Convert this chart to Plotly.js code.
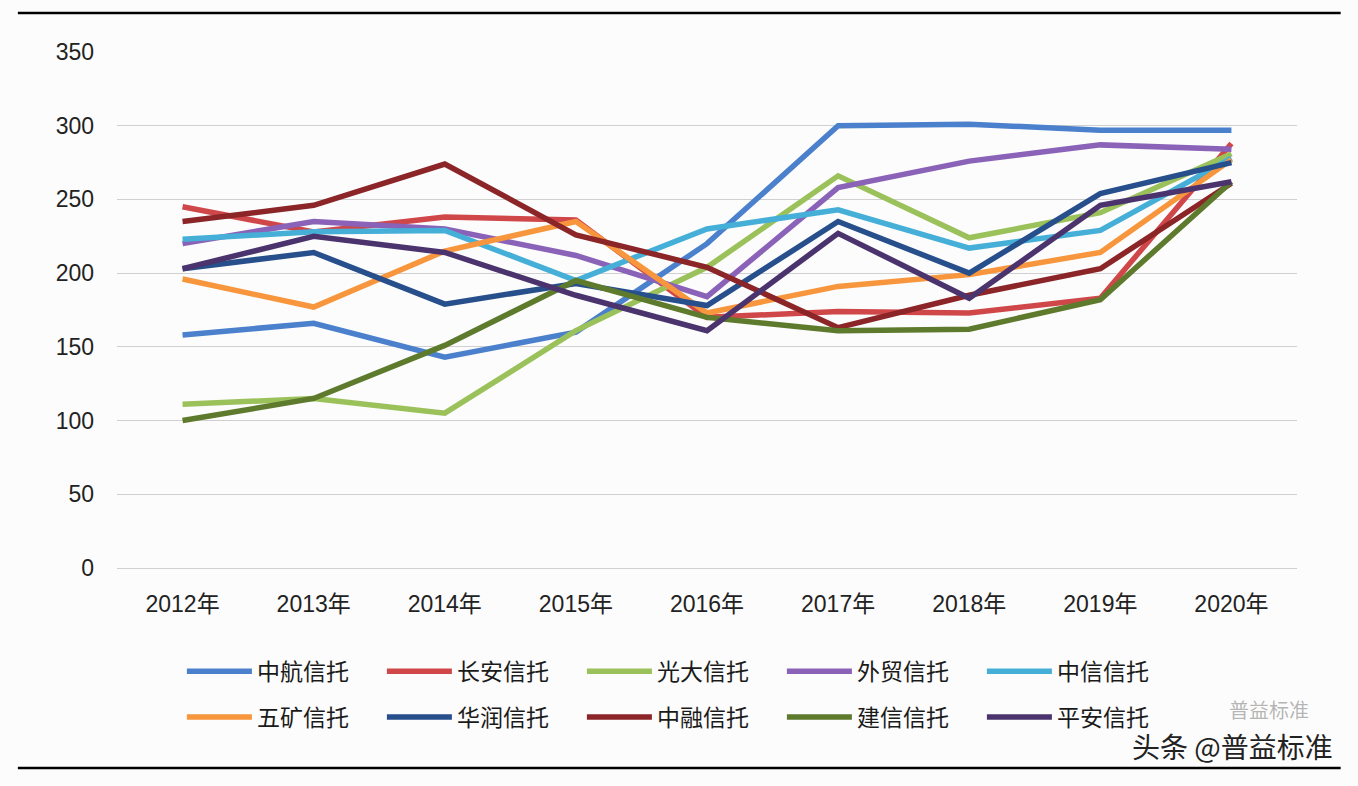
<!DOCTYPE html>
<html>
<head>
<meta charset="utf-8">
<script src="https://cdn.plot.ly/plotly-3.0.1.min.js"></script>
<style>
  html, body { margin: 0; padding: 0; background: #fcfcfc; }
  #chart { width: 1358px; height: 786px; }
</style>
</head>
<body>
<div id="chart"></div>
<script>
// categories
const years = ['2012年', '2013年', '2014年', '2015年', '2016年', '2017年', '2018年', '2019年', '2020年'];

// series values
const zhonghang = [158, 166, 143, 160, 220, 300, 301, 297, 297];
const changan   = [245, 228, 238, 236, 170, 174, 173, 183, 288];
const guangda   = [111, 115, 105, 161, 204, 266, 224, 241, 281];
const waimao    = [220, 235, 230, 212, 184, 258, 276, 287, 284];
const zhongxin  = [223, 228, 229, 195, 230, 243, 217, 229, 278];
const wukuang   = [196, 177, 215, 235, 173, 191, 199, 214, 277];
const huarun    = [203, 214, 179, 193, 178, 235, 200, 254, 275];
const zhongrong = [235, 246, 274, 226, 204, 163, 185, 203, 261];
const jianxin   = [100, 115, 151, 195, 170, 161, 162, 182, 262];
const pingan    = [203, 225, 214, 185, 161, 227, 183, 246, 262];

const names  = ['中航信托', '长安信托', '光大信托', '外贸信托', '中信信托',
                '五矿信托', '华润信托', '中融信托', '建信信托', '平安信托'];
const values = [zhonghang, changan, guangda, waimao, zhongxin,
                wukuang, huarun, zhongrong, jianxin, pingan];
const colors = ['#4a80cc', '#d0474a', '#9bc15a', '#8a62b8', '#45afd8',
                '#f7963c', '#264f8c', '#8b2528', '#5e7a2c', '#4b346e'];

const cjk = 'Liberation Sans, Noto Sans CJK SC, sans-serif';

const traces = names.map((n, i) => ({
  x: years, y: values[i], name: n,
  type: 'scatter', mode: 'lines',
  line: { color: colors[i], width: 5.5 },
  legend: i < 5 ? 'legend' : 'legend2'
}));

const legendBase = {
  orientation: 'h', xanchor: 'left', yanchor: 'middle',
  entrywidth: 120, entrywidthmode: 'pixels', itemwidth: 65,
  bgcolor: 'rgba(0,0,0,0)',
  font: { family: 'Noto Sans CJK SC, sans-serif', size: 23, color: '#1a1a1a' }
};

const layout = {
  width: 1358, height: 786,
  paper_bgcolor: '#fcfcfc', plot_bgcolor: '#fcfcfc',
  margin: { l: 117, r: 61, t: 52, b: 218 },
  font: { family: cjk, color: '#222' },
  showlegend: true,
  legend: { ...legendBase, x: 0.055, y: -0.2 },
  legend2: { ...legendBase, x: 0.055, y: -0.289 },
  xaxis: {
    type: 'category', range: [-0.5, 8.5],
    showgrid: false, zeroline: false, showline: false, ticks: '',
    ticklabelstandoff: 20,
    tickfont: { family: cjk, size: 23, color: '#222' }
  },
  yaxis: {
    range: [0, 350], dtick: 50,
    showgrid: true, gridcolor: '#d0d0d0', gridwidth: 1,
    zeroline: true, zerolinecolor: '#d0d0d0', zerolinewidth: 1,
    showline: false, ticks: '',
    ticklabelstandoff: 22,
    tickfont: { family: cjk, size: 23, color: '#222' }
  },
  shapes: [
    { type: 'line', xref: 'paper', yref: 'paper', x0: -0.084, x1: 1.037, y0: 1.0756, y1: 1.0756,
      line: { color: '#000', width: 2.5 } },
    { type: 'line', xref: 'paper', yref: 'paper', x0: -0.084, x1: 1.037, y0: -0.3876, y1: -0.3876,
      line: { color: '#000', width: 2.5 } }
  ],
  annotations: [
    { text: '普益标准', xref: 'paper', yref: 'paper', x: 1.012, y: -0.275,
      xanchor: 'right', yanchor: 'middle', showarrow: false,
      font: { family: 'Noto Sans CJK SC, sans-serif', size: 20, color: 'rgba(90,90,90,0.45)' } },
    { text: '头条 @普益标准', xref: 'paper', yref: 'paper', x: 1.032, y: -0.345,
      xanchor: 'right', yanchor: 'middle', showarrow: false,
      font: { family: 'Noto Sans CJK SC, sans-serif', size: 28, color: '#222' } }
  ]
};

Plotly.newPlot('chart', traces, layout, { displayModeBar: false, staticPlot: true });
</script>
</body>
</html>
